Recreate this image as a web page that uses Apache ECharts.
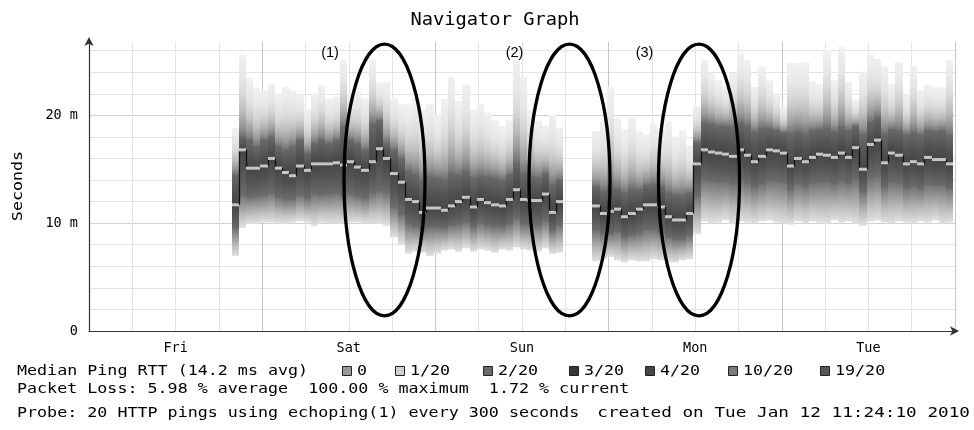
<!DOCTYPE html>
<html>
<head>
<meta charset="utf-8">
<script src="https://cdn.jsdelivr.net/npm/echarts@6/dist/echarts.min.js"></script>
<style>
  html, body { margin: 0; padding: 0; background: #fff; }
  #chart { width: 974px; height: 430px; }
</style>
</head>
<body>
<div id="chart"></div>
<script>
// ---------------------------------------------------
// Datos (horas contadas desde jue 12:00, un bin por hora)
// ---------------------------------------------------
const days = ['Fri', 'Sat', 'Sun', 'Mon', 'Tue'];
const firstHour = 19.75;

const medRTT = [
  11.7, 16.8, 15.1, 15.1, 15.3, 16.0, 15.1, 14.7, 14.4, 15.3,
  14.9, 15.5, 15.5, 15.5, 15.6, 15.4, 15.7, 15.2, 14.9, 15.7,
  16.9, 16.0, 14.6, 13.8, 12.2, 12.0, 11.0, 11.4, 11.4, 11.2,
  11.6, 12.0, 12.4, 11.5, 12.2, 11.9, 11.7, 11.6, 12.2, 13.1,
  12.2, 12.1, 12.1, 12.7, 11.0, 12.0, null, null, null, null,
  11.6, 10.9, 11.1, 11.3, 10.6, 10.9, 11.3, 11.7, 11.7, 11.5,
  10.6, 10.3, 10.3, 10.9, 15.5, 16.8, 16.6, 16.5, 16.4, 16.2,
  16.8, 16.3, 15.7, 16.2, 16.8, 16.7, 16.5, 15.3, 16.0, 15.7,
  16.1, 16.4, 16.3, 16.1, 16.5, 16.1, 17.0, 15.0, 17.3, 17.7,
  15.6, 16.5, 16.3, 15.5, 15.7, 15.5, 16.1, 15.9, 15.9, 15.5
];

// borde inferior del humo
const smokeLo = [
  7.0, 9.6, 10.0, 10.0, 10.1, 10.1, 10.0, 10.0, 10.1, 10.2,
  10.1, 9.8, 10.1, 10.0, 10.0, 10.0, 10.1, 10.1, 10.0, 10.0,
  10.0, 9.8, 8.7, 8.1, 7.2, 7.4, 7.3, 7.0, 7.2, 7.5,
  7.6, 7.4, 7.7, 7.4, 7.6, 7.5, 7.3, 7.6, 7.5, 7.8,
  7.6, 7.5, 7.4, 7.7, 7.2, 7.3, null, null, null, null,
  6.5, 6.7, 6.9, 6.6, 6.4, 6.6, 6.5, 6.5, 6.7, 6.6,
  6.4, 6.4, 6.6, 6.7, 9.0, 10.2, 10.0, 10.1, 10.3, 10.0,
  10.2, 10.1, 10.0, 10.2, 10.3, 10.1, 10.0, 9.9, 10.2, 10.0,
  10.2, 10.1, 10.0, 10.3, 10.1, 10.2, 10.0, 9.8, 10.2, 10.3,
  10.1, 10.0, 10.2, 10.1, 10.0, 10.2, 10.1, 10.3, 10.0, 10.1
];

// parte baja del nucleo oscuro
const smokeQ1 = [
  9.5, 12.6, 12.4, 12.5, 12.6, 12.8, 12.4, 12.2, 12.2, 12.6,
  12.3, 12.7, 12.6, 12.7, 12.8, 12.6, 12.7, 12.5, 12.3, 12.8,
  13.0, 12.8, 11.5, 10.8, 9.9, 9.7, 9.4, 9.6, 9.6, 9.5,
  9.8, 9.9, 10.1, 9.6, 10.0, 9.8, 9.7, 9.6, 9.9, 10.4,
  9.9, 9.9, 9.8, 10.2, 9.3, 9.8, null, null, null, null,
  9.3, 8.9, 9.0, 9.2, 8.7, 8.9, 9.1, 9.4, 9.4, 9.2,
  8.7, 8.5, 8.5, 8.8, 12.5, 14.0, 13.9, 13.8, 13.8, 13.6,
  14.0, 13.7, 13.3, 13.6, 13.9, 13.9, 13.8, 13.1, 13.6, 13.4,
  13.7, 13.8, 13.8, 13.6, 13.9, 13.7, 14.0, 12.9, 14.1, 14.3,
  13.3, 13.8, 13.7, 13.2, 13.4, 13.2, 13.6, 13.5, 13.5, 13.2
];

// parte alta del nucleo oscuro
const smokeQ3 = [
  14.5, 18.0, 17.7, 17.1, 17.7, 18.0, 17.1, 16.8, 17.1, 17.7,
  16.5, 17.4, 17.7, 17.4, 17.7, 18.9, 17.7, 17.4, 16.8, 19.2,
  19.5, 17.4, 16.8, 16.0, 14.8, 14.5, 14.0, 14.3, 14.2, 14.0,
  14.6, 14.5, 14.8, 14.2, 14.4, 14.3, 14.2, 14.0, 14.5, 15.6,
  14.6, 14.3, 14.2, 14.6, 13.6, 14.0, null, null, null, null,
  13.4, 13.0, 13.3, 13.2, 12.8, 13.2, 13.1, 13.5, 13.6, 13.4,
  12.8, 12.6, 12.6, 12.8, 17.5, 19.3, 19.2, 19.0, 19.0, 18.9,
  19.3, 19.0, 18.5, 18.8, 18.8, 18.6, 18.4, 18.3, 18.5, 18.3,
  18.6, 18.7, 18.8, 18.5, 18.9, 18.6, 19.0, 18.2, 19.4, 19.8,
  18.3, 18.7, 18.6, 18.2, 18.4, 18.2, 18.6, 18.5, 18.6, 18.2
];

// borde superior del humo
const smokeHi = [
  18.8, 25.6, 23.4, 22.5, 22.3, 22.9, 22.0, 22.6, 22.3, 21.9,
  20.6, 22.0, 22.8, 21.5, 21.7, 25.1, 21.9, 22.2, 21.6, 25.1,
  23.0, 23.1, 21.5, 21.0, 21.0, 21.5, 20.5, 21.0, 20.0, 21.5,
  23.5, 21.3, 22.8, 20.5, 21.0, 20.2, 19.5, 19.0, 19.6, 25.1,
  23.5, 20.5, 19.5, 19.0, 20.0, 18.8, null, null, null, null,
  18.5, 19.5, 22.6, 19.7, 18.7, 19.8, 18.5, 18.2, 19.2, 18.7,
  19.4, 18.0, 18.6, 17.2, 20.8, 25.1, 23.9, 23.2, 22.6, 23.9,
  25.7, 25.1, 22.6, 24.5, 23.2, 22.0, 20.8, 24.8, 24.8, 24.9,
  23.1, 22.9, 26.0, 23.2, 26.3, 23.1, 21.4, 24.0, 25.6, 25.2,
  24.5, 22.9, 24.9, 21.9, 24.5, 22.3, 22.8, 22.6, 22.6, 25.1
];

const lossLabels = ['0', '1/20', '2/20', '3/20', '4/20', '10/20', '19/20'];
const lossColors = ['#9a9a9a', '#cfcfcf', '#6a6a6a', '#383838', '#474747', '#7a7a7a', '#575757'];
const lossPos = [342, 395, 483, 569, 645, 728, 820];

// ---------------------------------------------------
// Construccion de filas para las series custom
// ---------------------------------------------------
const smokeData = [];
medRTT.forEach((m, i) => {
  if (m == null) return;
  smokeData.push([firstHour + i, smokeLo[i], smokeQ1[i], m, smokeQ3[i], smokeHi[i]]);
});

const medianData = [];
medRTT.forEach((m, i) => {
  if (m == null) return;
  const prev = i > 0 ? medRTT[i - 1] : null;
  medianData.push([firstHour + i, m, prev == null ? m : prev]);
});

const grad = (stops) => new echarts.graphic.LinearGradient(0, 0, 0, 1,
  stops.map(s => ({ offset: s[0], color: s[1] })));

// rect con un poco de solape vertical para evitar costuras
const band = (x, y0, w, y1, fill) => ({
  type: 'rect', shape: { x: x, y: y0 - 0.4, width: w, height: (y1 - y0) + 0.8 }, style: { fill: fill }
});

function renderSmoke(params, api) {
  const h = api.value(0);
  const x0 = Math.round(api.coord([h, 0])[0]);
  const x1 = Math.round(api.coord([h + 1, 0])[0]);
  const w = x1 - x0;
  const y = (v) => api.coord([h, v])[1];
  const yLo = y(api.value(1)), yQ1 = y(api.value(2)), yMed = y(api.value(3));
  const yQ3 = y(api.value(4)), yHi = y(api.value(5));
  return {
    type: 'group',
    children: [
      band(x0, yHi, w, yQ3, grad([[0, '#f1f1f1'], [0.3, '#e6e6e6'], [0.5, '#d6d6d6'], [0.68, '#bdbdbd'], [0.85, '#9a9a9a'], [1, '#6e6e6e']])),
      band(x0, yQ1, w, yLo, grad([[0, '#707070'], [0.35, '#9b9b9b'], [0.7, '#c4c4c4'], [1, '#e0e0e0']])),
      band(x0, yQ3, w, yMed, grad([[0, '#6a6a6a'], [0.5, '#555555'], [1, '#444444']])),
      band(x0, yMed, w, yQ1, grad([[0, '#444444'], [0.5, '#555555'], [1, '#6c6c6c']]))
    ]
  };
}

function renderMedian(params, api) {
  const h = api.value(0);
  const p = api.coord([h, api.value(1)]);
  const pPrev = api.coord([h, api.value(2)]);
  const x0 = Math.round(p[0]);
  const x1 = Math.round(api.coord([h + 1, 0])[0]);
  return {
    type: 'group',
    children: [
      { type: 'line', shape: { x1: x0 + 0.5, y1: pPrev[1], x2: x0 + 0.5, y2: p[1] },
        style: { stroke: '#111', lineWidth: 1.3 } },
      { type: 'rect', shape: { x: x0, y: p[1] - 1.5, width: x1 - x0, height: 3 },
        style: { fill: '#c6c6c6' } }
    ]
  };
}

// ---------------------------------------------------
// Textos
// ---------------------------------------------------
const mono = 'DejaVu Sans Mono';
function txt(x, y, text, opts = {}) {
  return Object.assign({
    type: 'text', x: x, y: y, z: 100, scaleX: opts.sx || 1.15,
    style: {
      text: text, fontFamily: mono, fontSize: opts.size || 14.5, fill: '#000',
      align: opts.align || 'left', verticalAlign: 'middle',
      textAlign: opts.align || 'left', textVerticalAlign: 'middle'
    }
  }, opts.extra || {});
}

const graphics = [
  txt(495, 20, 'Navigator Graph', { size: 17.5, sx: 1.07, align: 'center' }),
  txt(18, 186, 'Seconds', { align: 'center', extra: { rotation: Math.PI / 2 } }),
  txt(17, 371, 'Median Ping RTT (14.2 ms avg)'),
  txt(17, 389, 'Packet Loss: 5.98 % average  100.00 % maximum  1.72 % current'),
  txt(17, 413, 'Probe: 20 HTTP pings using echoping(1) every 300 seconds'),
  txt(970, 413, 'created on Tue Jan 12 11:24:10 2010', { align: 'right', sx: 1.22 })
];
lossLabels.forEach((lab, k) => {
  graphics.push({
    type: 'rect', z: 100,
    shape: { x: lossPos[k] + 0.5, y: 366.5, width: 9, height: 9 },
    style: { fill: lossColors[k], stroke: '#222', lineWidth: 1 }
  });
  graphics.push(txt(lossPos[k] + 15, 371, lab));
});

// elipses y anotaciones
[[384.5, '(1)', 330], [569.5, '(2)', 514.5], [699, '(3)', 644.5]].forEach(e => {
  graphics.push({
    type: 'ellipse', z: 120,
    shape: { cx: e[0], cy: 180, rx: 40.5, ry: 135.8 },
    style: { fill: null, stroke: '#000', lineWidth: 3.3 }
  });
  graphics.push({
    type: 'text', x: e[2], y: 53, z: 120,
    style: { text: e[1], fontFamily: 'Liberation Sans', fontSize: 14.5, fill: '#000',
             align: 'center', verticalAlign: 'middle', textAlign: 'center', textVerticalAlign: 'middle' }
  });
});

// ---------------------------------------------------
// Chart
// ---------------------------------------------------
const chart = echarts.init(document.getElementById('chart'), null, { renderer: 'canvas' });

chart.setOption({
  animation: false,
  backgroundColor: '#fff',
  grid: { left: 89, right: 19, top: 42, bottom: 99, containLabel: false, outerBoundsMode: 'none' },
  xAxis: {
    type: 'value', min: 0, max: 120, interval: 6,
    axisLine: { show: true, onZero: false, lineStyle: { color: '#333', width: 1.2 },
                symbol: ['none', 'arrow'], symbolSize: [7, 9], symbolOffset: [0, 4] },
    axisTick: { show: false },
    axisLabel: {
      margin: 10, color: '#000', fontFamily: mono, fontSize: 13.5,
      showMinLabel: true, showMaxLabel: true,
      formatter: (v) => (v >= 12 && (v - 12) % 24 === 0) ? (days[(v - 12) / 24] || '') : ''
    },
    splitLine: { show: true, lineStyle: { color: ['#c6c6c6', '#e3e3e3', '#e3e3e3', '#e3e3e3'], width: 1 } }
  },
  yAxis: {
    type: 'value', min: 0, max: 26.8, interval: 2,
    axisLine: { show: true, lineStyle: { color: '#333', width: 1.2 },
                symbol: ['none', 'arrow'], symbolSize: [7, 9], symbolOffset: [0, 5] },
    axisTick: { show: false },
    axisLabel: {
      margin: 11, color: '#000', fontFamily: mono, fontSize: 13.5,
      formatter: (v) => v === 0 ? '0' : (v % 10 === 0 ? v + ' m' : '')
    },
    splitLine: { show: true, showMaxLine: false,
                 lineStyle: { color: ['#d2d2d2', '#e3e3e3', '#e3e3e3', '#e3e3e3', '#e3e3e3'], width: 1 } }
  },
  series: [
    {
      type: 'custom', name: 'smoke', renderItem: renderSmoke, data: smokeData,
      encode: { x: 0, y: [1, 5] }, z: 2, silent: true, clip: true
    },
    {
      type: 'custom', name: 'median', renderItem: renderMedian, data: medianData,
      encode: { x: 0, y: [1, 2] }, z: 3, silent: true, clip: true
    }
  ],
  graphic: graphics
});
</script>
</body>
</html>
